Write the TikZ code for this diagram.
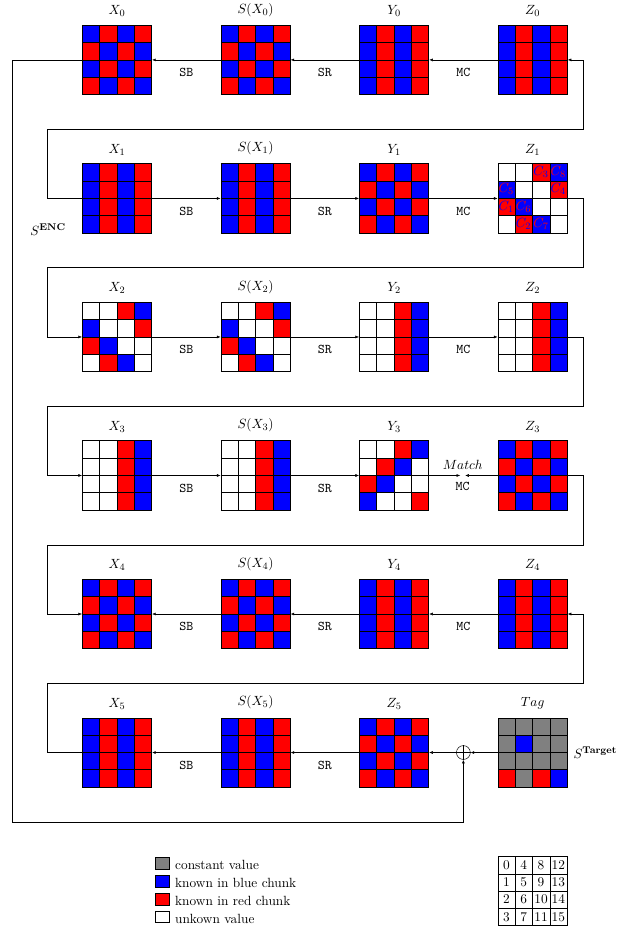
\documentclass[11pt,tikz,border=0pt]{standalone}
\usepackage{tikz}
\usetikzlibrary{arrows.meta, positioning, calc}
\colorlet{B}{blue}
\colorlet{R}{red}
\colorlet{W}{white}
\colorlet{G}{gray}

% cell patterns, row by row
\newcommand{\checkered}{B,R,B,R,R,B,R,B,B,R,B,R,R,B,R,B}
\newcommand{\striped}{B,R,B,R,B,R,B,R,B,R,B,R,B,R,B,R}
\newcommand{\halfstriped}{W,W,R,B,W,W,R,B,W,W,R,B,W,W,R,B}
\newcommand{\diagonal}{W,W,R,B,B,W,W,R,R,B,W,W,W,R,B,W}

% \stategrid{name}{centre}{label}{cells}
\newcommand{\stategrid}[4]{%
  \edef\celllist{#4}%
  \begin{scope}[shift={(#2)}]
    \foreach \c [count=\i from 0] in \celllist {
      \pgfmathtruncatemacro{\cellrow}{div(\i,4)}
      \pgfmathtruncatemacro{\cellcol}{mod(\i,4)}
      \fill[fill=\c] (\cellcol*0.5-1, 1-\cellrow*0.5) rectangle ++(0.5,-0.5);
    }
    \draw[cellline] (-1,-1) grid[step=0.5] (1,1);
  \end{scope}
  \node[statebox] (#1) at (#2) {};
  \node[lbl, above=3pt of #1] (#1l) {#3};
}

\begin{document}
\begin{tikzpicture}[
    statebox/.style={draw, semithick, minimum size=2cm, inner sep=0pt},
    cellline/.style={semithick},
    lbl/.style={font=\normalsize},
    op/.style={font=\ttfamily, below=3pt},
    flow/.style={-{Latex[length=3pt,width=2.4pt]}},
    celltext/.style={inner sep=0pt},
    keybox/.style={draw, semithick, minimum width=0.42cm,
                   minimum height=0.34cm, inner sep=0pt},
    keytext/.style={inner sep=0pt},
  ]
  \useasboundingbox (0,0) rectangle (17.846,-26.97);

  % states
  \stategrid{x0}{3.38,-1.73}{$X_0$}{\checkered}
  \stategrid{sx0}{7.38,-1.73}{$S(X_0)$}{\checkered}
  \stategrid{y0}{11.38,-1.73}{$Y_0$}{\striped}
  \stategrid{z0}{15.38,-1.73}{$Z_0$}{\striped}

  \stategrid{x1}{3.38,-5.73}{$X_1$}{\striped}
  \stategrid{sx1}{7.38,-5.73}{$S(X_1)$}{\striped}
  \stategrid{y1}{11.38,-5.73}{$Y_1$}{\checkered}
  \stategrid{z1}{15.38,-5.73}{$Z_1$}{\diagonal}

  \stategrid{x2}{3.38,-9.73}{$X_2$}{\diagonal}
  \stategrid{sx2}{7.38,-9.73}{$S(X_2)$}{\diagonal}
  \stategrid{y2}{11.38,-9.73}{$Y_2$}{\halfstriped}
  \stategrid{z2}{15.38,-9.73}{$Z_2$}{\halfstriped}

  \stategrid{x3}{3.38,-13.73}{$X_3$}{\halfstriped}
  \stategrid{sx3}{7.38,-13.73}{$S(X_3)$}{\halfstriped}
  \stategrid{y3}{11.38,-13.73}{$Y_3$}{W,W,R,B,W,R,B,W,R,B,W,W,B,W,W,R}
  \stategrid{z3}{15.38,-13.73}{$Z_3$}{\checkered}

  \stategrid{x4}{3.38,-17.73}{$X_4$}{\checkered}
  \stategrid{sx4}{7.38,-17.73}{$S(X_4)$}{\checkered}
  \stategrid{y4}{11.38,-17.73}{$Y_4$}{\striped}
  \stategrid{z4}{15.38,-17.73}{$Z_4$}{\striped}

  \stategrid{x5}{3.38,-21.73}{$X_5$}{\striped}
  \stategrid{sx5}{7.38,-21.73}{$S(X_5)$}{\striped}
  \stategrid{z5}{11.38,-21.73}{$Z_5$}{\checkered}
  \stategrid{tag}{15.38,-21.73}{$Tag$}{G,G,G,G,G,B,G,G,G,G,G,G,R,G,R,B}

  % known bytes of Z_1
  \foreach \r/\q/\k/\tc in {0/2/3/B, 0/3/8/R, 1/0/5/R, 1/3/4/B,
                             2/0/1/B, 2/1/6/R, 3/1/2/B, 3/2/7/R}
    \node[celltext, text=\tc] (c\k)
      at ($(z1.north west)+(\q*0.5+0.25,-\r*0.5-0.25)$) {$C_{\k}$};

  % wiring points
  \coordinate (outl) at (0.35,0);
  \coordinate (inl) at (1.36,0);
  \coordinate (rgt) at (16.84,0);
  \coordinate (w1) at (0,-3.73);
  \coordinate (w2) at (0,-7.73);
  \coordinate (w3) at (0,-11.73);
  \coordinate (w4) at (0,-15.73);
  \coordinate (w5) at (0,-19.73);
  \coordinate (bot) at (0,-23.74);
  \coordinate (mt) at (13.36,-13.73);
  \node[circle, draw, inner sep=0pt, minimum size=0.4cm] (xor)
      at (13.38,-21.73) {};
  \draw (xor.north) -- (xor.south) (xor.west) -- (xor.east);

  % round 0 (backward)
  \draw[flow] (x1.west) -| (inl |- w1) -| (rgt |- z0) -- (z0.east);
  \draw[flow] (z0) -- node[op] {MC} (y0);
  \draw[flow] (y0) -- node[op] {SR} (sx0);
  \draw[flow] (sx0) -- node[op] {SB} (x0);
  \draw[flow] (x0.west) -| (outl |- bot) -| (xor);

  % round 1
  \draw[flow] (x1) -- node[op] {SB} (sx1);
  \draw[flow] (sx1) -- node[op] {SR} (y1);
  \draw[flow] (y1) -- node[op] {MC} (z1);
  \draw[flow] (z1.east) -| (rgt |- w2) -| (inl |- x2) -- (x2.west);

  % round 2
  \draw[flow] (x2) -- node[op] {SB} (sx2);
  \draw[flow] (sx2) -- node[op] {SR} (y2);
  \draw[flow] (y2) -- node[op] {MC} (z2);
  \draw[flow] (z2.east) -| (rgt |- w3) -| (inl |- x3) -- (x3.west);

  % round 3, matching point
  \draw[flow] (x3) -- node[op] {SB} (sx3);
  \draw[flow] (sx3) -- node[op] {SR} (y3);
  \draw[flow, shorten >=2pt] (y3) -- (mt);
  \draw[flow, shorten >=2pt] (z3) -- (mt);
  \node[above=1pt of mt] (match) {$Match$};
  \node[font=\ttfamily, below=2pt of mt] (mc3) {MC};
  \draw[flow] (z3.east) -| (rgt |- w4) -| (inl |- x4) -- (x4.west);

  % round 4 (backward)
  \draw[flow] (x5.west) -| (inl |- w5) -| (rgt |- z4) -- (z4.east);
  \draw[flow] (z4) -- node[op] {MC} (y4);
  \draw[flow] (y4) -- node[op] {SR} (sx4);
  \draw[flow] (sx4) -- node[op] {SB} (x4);

  % round 5 (backward from the tag)
  \draw[flow] (tag) -- (xor);
  \draw[flow] (xor) -- (z5);
  \draw[flow] (z5) -- node[op] {SR} (sx5);
  \draw[flow] (sx5) -- node[op] {SB} (x5);

  \node (senc) at (1.39,-6.64) {$S^{\mathbf{ENC}}$};
  \node[right=1pt of tag] (starget) {$S^{\mathbf{Target}}$};

  % legend
  \node[keybox, fill=G] (k1) at (4.69,-24.94) {};
  \node[keybox, fill=B, below=0.15cm of k1] (k2) {};
  \node[keybox, fill=R, below=0.15cm of k2] (k3) {};
  \node[keybox, fill=W, below=0.15cm of k3] (k4) {};
  \node[keytext, right=4pt of k1.south east, anchor=base west] (kt1) {constant value};
  \node[keytext, right=4pt of k2.south east, anchor=base west] (kt2) {known in blue chunk};
  \node[keytext, right=4pt of k3.south east, anchor=base west] (kt3) {known in red chunk};
  \node[keytext, right=4pt of k4.south east, anchor=base west] (kt4) {unkown value};

  % byte positions
  \node[draw, minimum size=2cm, inner sep=0pt] (tbl) at (15.38,-25.73) {};
  \begin{scope}[shift={(tbl.center)}]
    \draw (-1,-1) grid[step=0.5] (1,1);
  \end{scope}
  \foreach \q in {0,...,3} {
    \foreach \r in {0,...,3} {
      \pgfmathtruncatemacro{\idx}{4*\q+\r}
      \node[celltext] (t\idx)
        at ($(tbl.north west)+(\q*0.5+0.25,-\r*0.5-0.25)$) {\idx};
    }
  }
\end{tikzpicture}
\end{document}
